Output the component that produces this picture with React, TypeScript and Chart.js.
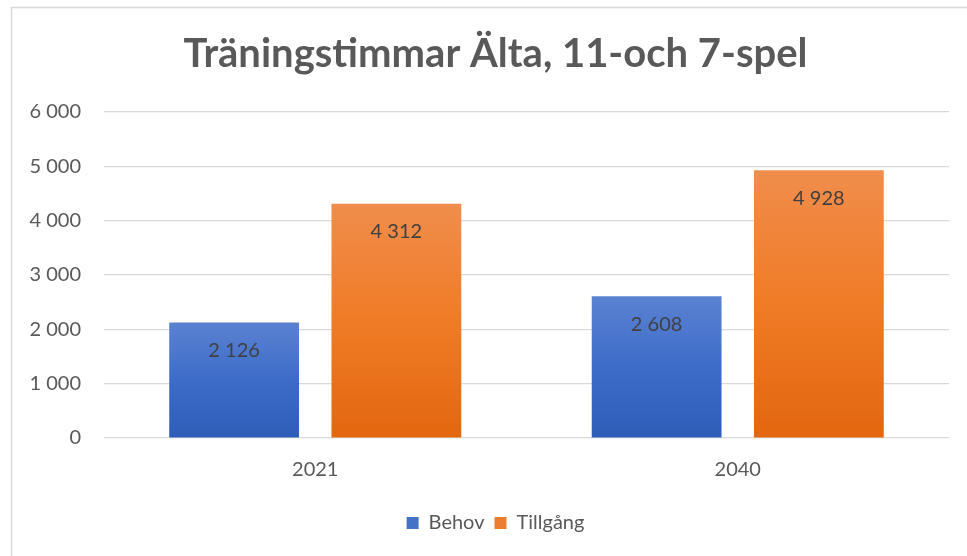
import React, { useEffect, useRef } from "react";
import { Chart, registerables } from "chart.js";

Chart.register(...registerables);

const TITLE = "Träningstimmar Älta, 11-och 7-spel";
const categories = ["2021", "2040"];
const seriesNames = ["Behov", "Tillgång"];
const behov = [2126, 2608];
const tillgang = [4312, 4928];
const yTicks = [0, 1000, 2000, 3000, 4000, 5000, 6000];

const fmt = (v: number) => String(v).replace(/\B(?=(\d{3})+(?!\d))/g, " ");

const gradientFill = (stops: string[], solid: string) => (ctx: any) => {
  const chart = ctx.chart;
  const { chartArea, scales } = chart;
  if (!chartArea || ctx.raw == null) return solid;
  const top = scales.y.getPixelForValue(ctx.raw);
  const bottom = scales.y.getPixelForValue(0);
  if (!isFinite(top) || !isFinite(bottom) || top === bottom) return solid;
  const g = chart.ctx.createLinearGradient(0, top, 0, bottom);
  g.addColorStop(0, stops[0]);
  g.addColorStop(0.5, stops[1]);
  g.addColorStop(1, stops[2]);
  return g;
};

const frame = {
  id: "frame",
  beforeDraw(chart: any) {
    const c = chart.ctx;
    c.save();
    c.fillStyle = "#ffffff";
    c.fillRect(0, 0, chart.width, chart.height);
    c.strokeStyle = "#d9d9d9";
    c.lineWidth = 1.5;
    c.strokeRect(11.5, 7.5, 2000, 2000);
    c.restore();
  },
};

const dataLabels = {
  id: "dataLabels",
  afterDatasetsDraw(chart: any) {
    const c = chart.ctx;
    c.save();
    c.font = "20px Lato";
    c.fillStyle = "#404040";
    c.textAlign = "center";
    c.textBaseline = "middle";
    chart.data.datasets.forEach((ds: any, i: number) => {
      const meta = chart.getDatasetMeta(i);
      meta.data.forEach((el: any, j: number) => {
        c.fillText(fmt(ds.data[j]), el.x, el.y + 28);
      });
    });
    c.restore();
  },
};

export default function App() {
  const ref = useRef<HTMLCanvasElement>(null);
  useEffect(() => {
    document.body.style.margin = "0";
    const chart = new Chart(ref.current!, {
      type: "bar",
      data: {
        labels: categories,
        datasets: [
          {
            label: seriesNames[0],
            data: behov,
            backgroundColor: gradientFill(["#5b82d2", "#3c6cc8", "#2d5db7"], "#4472c4"),
            borderWidth: 0,
            categoryPercentage: 0.768,
            barPercentage: 0.8,
          },
          {
            label: seriesNames[1],
            data: tillgang,
            backgroundColor: gradientFill(["#f08d4c", "#f07b26", "#e2670f"], "#ed7d31"),
            borderWidth: 0,
            categoryPercentage: 0.768,
            barPercentage: 0.8,
          },
        ],
      },
      options: {
        animation: false,
        responsive: false,
        maintainAspectRatio: false,
        layout: { padding: { left: 24, right: 0, top: 0, bottom: 13 } },
        plugins: {
          title: {
            display: true,
            text: TITLE,
            color: "#595959",
            font: { family: "Lato", size: 40, weight: "bold", lineHeight: 1.2 },
            padding: { top: 30, bottom: 34 },
          },
          legend: {
            position: "bottom",
            labels: {
              color: "#595959",
              font: { family: "Lato", size: 20 },
              boxWidth: 12,
              boxHeight: 12,
              padding: 10,
              useBorderRadius: false,
              generateLabels: (chart: any) =>
                chart.data.datasets.map((ds: any, i: number) => ({
                  text: ds.label,
                  fillStyle: i === 0 ? "#4472c4" : "#ed7d31",
                  strokeStyle: "transparent",
                  lineWidth: 0,
                  datasetIndex: i,
                  hidden: false,
                  fontColor: "#595959",
                })),
            },
          },
          tooltip: { enabled: false },
        },
        scales: {
          x: {
            grid: { display: false, drawTicks: false },
            border: { display: false },
            ticks: { color: "#595959", font: { family: "Lato", size: 20 }, padding: 20 },
            afterFit: (s: any) => {
              s.height = 65;
            },
          },
          y: {
            min: 0,
            max: 6000,
            afterBuildTicks: (s: any) => {
              s.ticks = yTicks.map((v) => ({ value: v }));
            },
            grid: { color: "#d9d9d9", lineWidth: 1.2, drawTicks: false },
            border: { display: false },
            ticks: {
              color: "#595959",
              font: { family: "Lato", size: 20 },
              padding: 23,
              callback: (v: any) => fmt(Number(v)),
            },
            afterFit: (s: any) => {
              s.width = 80;
            },
          },
          y2: {
            position: "right",
            display: true,
            grid: { display: false, drawTicks: false },
            border: { display: false },
            ticks: { display: false },
            afterFit: (s: any) => {
              s.width = 18;
            },
          },
        },
      },
      plugins: [frame, dataLabels],
    });
    return () => chart.destroy();
  }, []);
  return (
    <div style={{ width: 967, height: 556, overflow: "hidden" }}>
      <canvas ref={ref} width={967} height={556} style={{ display: "block" }} />
    </div>
  );
}
